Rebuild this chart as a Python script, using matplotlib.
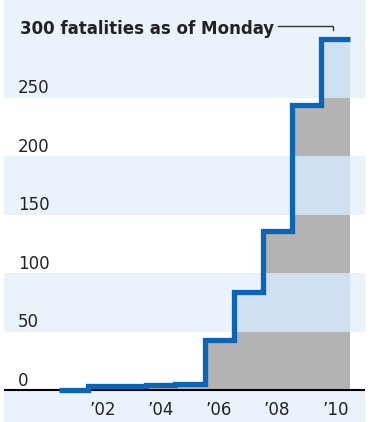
import matplotlib
matplotlib.use("Agg")
import matplotlib.pyplot as plt
from matplotlib import font_manager as fm
import numpy as np

# Cumulative fatalities at the end of each year
years = [2001, 2002, 2003, 2004, 2005, 2006, 2007, 2008, 2009, 2010]
fatalities = [0, 3, 3, 4, 5, 43, 84, 136, 244, 300]
y_ticks = [0, 50, 100, 150, 200, 250]
x_tick_years = [2002, 2004, 2006, 2008, 2010]
x_tick_labels = ["\u201902", "\u201904", "\u201906", "\u201908", "\u201910"]
headline = "300 fatalities as of Monday"

BG_BLUE = "#EAF2FB"
FILL_BLUE = "#CFE0F2"
FILL_GREY = "#B3B3B3"
LINE_BLUE = "#0A66B4"
TEXT = "#222222"

# prefer a condensed face when one is available
condensed = [f for f in fm.fontManager.ttflist
             if "condensed" in f.fname.lower() or "narrow" in f.fname.lower()]
names = sorted({f.name for f in condensed})
if any(f.name == "DejaVu Sans" for f in condensed):
    FONT = dict(family="DejaVu Sans", fontstretch="condensed")
elif names:
    FONT = dict(family=names[0])
else:
    FONT = dict(family="Roboto")

W, H = 375, 422
fig = plt.figure(figsize=(W / 100, H / 100), dpi=100)
fig.patch.set_facecolor("white")
ax = fig.add_axes([4 / W, 0, (365 - 4) / W, 1])

# pixel-based scales
px_per_unit = 1.17
px_per_year = 29.1
ymax = 390 / px_per_unit
ymin = -(H - 390) / px_per_unit
xmin = 2001 - (59 - 4) / px_per_year
xmax = 2011 + (365 - 350) / px_per_year
ax.set_xlim(xmin, xmax)
ax.set_ylim(ymin, ymax)
ax.axis("off")
ax.add_patch(plt.Rectangle((xmin, ymin), xmax - xmin, ymax - ymin,
                           color=BG_BLUE, lw=0, zorder=-1))

# alternating bands: white for 0-50, 100-150, 200-250
band_edges = [0, 50, 100, 150, 200, 250, ymax]
for i in range(len(band_edges) - 1):
    lo, hi = band_edges[i], band_edges[i + 1]
    if i % 2 == 0:
        ax.axhspan(lo, hi, color="white", lw=0, zorder=0)

# step area, coloured per band
xs = np.array(years + [years[-1] + 1], dtype=float)
vals = np.array(fatalities + [fatalities[-1]], dtype=float)
for i in range(len(band_edges) - 1):
    lo, hi = band_edges[i], band_edges[i + 1]
    color = FILL_GREY if i % 2 == 0 else FILL_BLUE
    top = np.clip(vals, lo, hi)
    ax.fill_between(xs, lo, top, step="post", color=color, lw=0, zorder=1)

# baseline
ax.plot([xmin, xmax], [0, 0], color="black", lw=1.5, zorder=2,
        solid_capstyle="butt")

# step line
ax.step(xs, vals, where="post", color=LINE_BLUE, lw=3.8, zorder=3,
        solid_capstyle="butt", solid_joinstyle="miter")

FS = 13.3

# y labels
label_x = xmin + 14 / px_per_year
for v in y_ticks:
    ax.text(label_x, v + 3.5, str(v), ha="left", va="baseline",
            fontsize=FS, color=TEXT, zorder=4, **FONT)

# x labels
for yr, lab in zip(x_tick_years, x_tick_labels):
    ax.text(yr + 0.5, -17, lab, ha="center", va="center",
            fontsize=FS, color=TEXT, zorder=4, **FONT)

# headline with leader line
ax.text(label_x + 2 / px_per_year, (390 - 34) / px_per_unit, headline,
        ha="left", va="baseline", fontsize=FS, fontweight="bold",
        color=TEXT, zorder=4, **FONT)
lead_y = (390 - 25.5) / px_per_unit
x0 = xmin + (278 - 4) / px_per_year
x1 = xmin + (333 - 4) / px_per_year
ax.plot([x0, x1, x1], [lead_y, lead_y, lead_y - 3.5], color="#333333",
        lw=1.0, zorder=4, solid_joinstyle="miter")

fig.savefig("out.png", dpi=100)
